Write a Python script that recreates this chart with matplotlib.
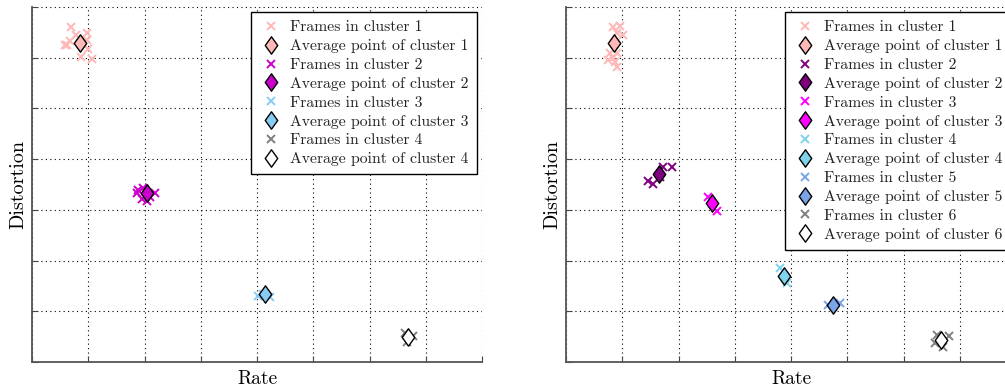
import numpy as np
import matplotlib
matplotlib.use("Agg")
import matplotlib.pyplot as plt
from matplotlib.path import Path

plt.rcParams['font.family'] = ['cmr10', 'DejaVu Serif']
plt.rcParams['axes.unicode_minus'] = False

# left panel: 4 clusters
left_frames_x = [
    [0.69, 0.63, 0.79, 0.97, 0.98, 1.00, 0.87, 1.06, 0.68, 0.59],
    [1.89, 1.98, 2.19, 1.95, 2.04, 1.86, 2.10, 2.02],
    [4.02, 4.23, 4.11],
    [6.63, 6.78, 6.66],
]
left_frames_y = [
    [6.61, 6.25, 6.45, 6.48, 6.35, 6.17, 6.01, 5.97, 6.32, 6.25],
    [3.39, 3.43, 3.34, 3.21, 3.18, 3.33, 3.26, 3.36],
    [1.30, 1.29, 1.35],
    [0.57, 0.51, 0.40],
]
left_avg_x = [0.86, 2.04, 4.14, 6.69]
left_avg_y = [6.29, 3.33, 1.35, 0.49]
left_colors = ['#FFB8B8', '#CC00CC', '#88CCF5', '#808080']
left_avg_face = ['#FFB8B8', '#CC00CC', '#88CCF5', 'white']

# right panel: 6 clusters
right_frames_x = [
    [0.84, 0.96, 1.02, 0.90, 0.78, 0.90, 0.75, 0.87, 0.90, 0.84],
    [1.46, 1.55, 1.73, 1.88, 1.67],
    [2.52, 2.69],
    [3.80, 3.92],
    [4.66, 4.87],
    [6.59, 6.81, 6.71, 6.56],
]
right_frames_y = [
    [6.61, 6.63, 6.45, 6.48, 6.09, 6.09, 5.96, 5.92, 5.82, 5.99],
    [3.56, 3.51, 3.85, 3.85, 3.65],
    [3.26, 2.98],
    [1.85, 1.55],
    [1.12, 1.16],
    [0.53, 0.51, 0.30, 0.37],
]
right_avg_x = [0.85, 1.65, 2.60, 3.88, 4.75, 6.66]
right_avg_y = [6.30, 3.70, 3.14, 1.70, 1.12, 0.43]
right_colors = ['#FFB8B8', '#800080', '#FF00FF', '#7FD3EC', '#7BA3E8', '#808080']
right_avg_face = ['#FFB8B8', '#800080', '#FF00FF', '#7FD3EC', '#7BA3E8', 'white']

# matlab-like diamond, a bit wider than matplotlib's thin one
diamond = Path([(0, 1), (0.72, 0), (0, -1), (-0.72, 0), (0, 1)],
               [Path.MOVETO, Path.LINETO, Path.LINETO, Path.LINETO, Path.CLOSEPOLY])


def draw_panel(ax, fx, fy, ax_, ay_, colors, faces):
    for i in range(len(fx)):
        ax.plot(fx[i], fy[i], linestyle='none', marker='x', color=colors[i],
                markersize=6, markeredgewidth=1.4,
                label='Frames in cluster %d' % (i + 1), zorder=3)
        ax.plot([ax_[i]], [ay_[i]], linestyle='none', marker=diamond,
                markerfacecolor=faces[i], markeredgecolor='black',
                markeredgewidth=1.0, markersize=12.5,
                label='Average point of cluster %d' % (i + 1), zorder=4)
    ax.set_xlim(0, 8)
    ax.set_ylim(0, 7)
    ax.set_xticks(np.arange(0, 9))
    ax.set_yticks(np.arange(0, 8))
    ax.set_xticklabels([])
    ax.set_yticklabels([])
    ax.tick_params(direction='in', length=4, color='#444444')
    ax.grid(True, color='black', linestyle=(0, (1, 3)), linewidth=0.8)
    ax.set_axisbelow(True)
    for s in ['top', 'right']:
        ax.spines[s].set_visible(False)
    for s in ['left', 'bottom']:
        ax.spines[s].set_color('#555555')
        ax.spines[s].set_linewidth(1.3)
    ax.set_xlabel('Rate', fontsize=14, labelpad=2)
    ax.set_ylabel('Distortion', fontsize=14.5, labelpad=0)
    leg = ax.legend(loc='upper right', numpoints=1, fontsize=11.3,
                    fancybox=False, framealpha=1, edgecolor='black',
                    handlelength=1.5, handletextpad=0.5, labelspacing=0.31,
                    borderaxespad=0.35, borderpad=0.5)
    leg.get_frame().set_linewidth(1.0)
    for t in leg.get_texts():
        t.set_color('#222222')


fig = plt.figure(figsize=(10.05, 3.9), dpi=100)
ax1 = fig.add_axes([32 / 1005, 28 / 390, 450 / 1005, 355 / 390])
ax2 = fig.add_axes([566 / 1005, 28 / 390, 450 / 1005, 355 / 390])

draw_panel(ax1, left_frames_x, left_frames_y, left_avg_x, left_avg_y,
           left_colors, left_avg_face)
draw_panel(ax2, right_frames_x, right_frames_y, right_avg_x, right_avg_y,
           right_colors, right_avg_face)

fig.savefig('out.png', dpi=100)
